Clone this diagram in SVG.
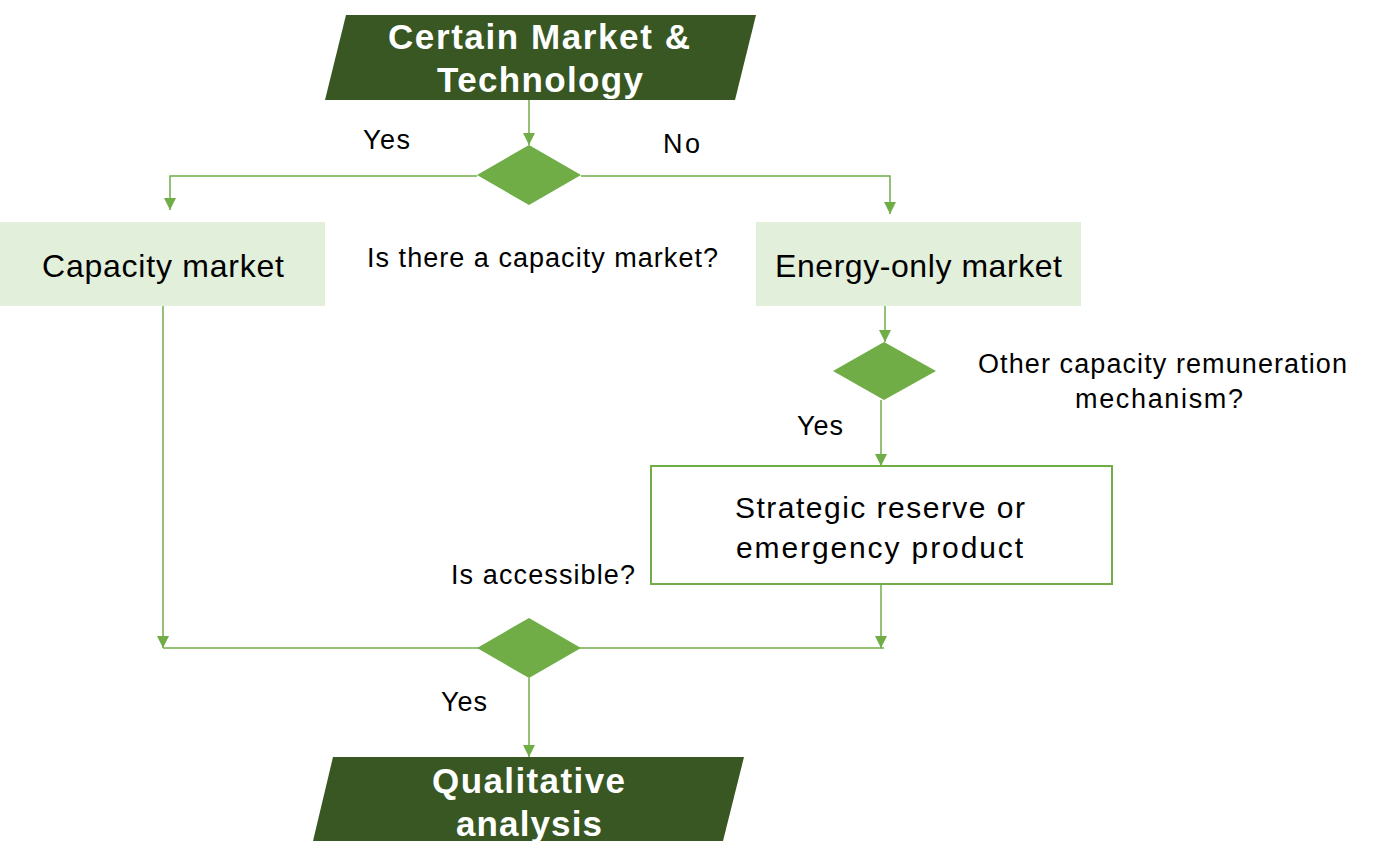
<svg xmlns="http://www.w3.org/2000/svg" width="1380" height="868" viewBox="0 0 1380 868">
<style>
text{font-family:"Liberation Sans",Arial,sans-serif;fill:#000}
.title{font-weight:bold;font-size:35px;fill:#fff}
.box{font-size:32px}
.lbl{font-size:27px}
.con{stroke:#70AD47;stroke-width:1.5;fill:none}
.dark{fill:#385723}
.light{fill:#E2EFDA}
.dia{fill:#70AD47}
</style>
<defs>
<marker id="arr" markerUnits="userSpaceOnUse" markerWidth="12" markerHeight="12" refX="12" refY="6" orient="auto">
<path d="M0,0 L12,6 L0,12 Z" fill="#70AD47"/>
</marker>
</defs>
<rect width="1380" height="868" fill="#fff"/>
<g id="connectors">
<line class="con" x1="529" y1="100" x2="529" y2="145" marker-end="url(#arr)"/>
<polyline class="con" points="477,176 170,176 170,210" marker-end="url(#arr)"/>
<polyline class="con" points="581,176 890,176 890,214" marker-end="url(#arr)"/>
<line class="con" x1="163" y1="306" x2="163" y2="648" marker-end="url(#arr)"/>
<line class="con" x1="163" y1="648" x2="884" y2="648"/>
<line class="con" x1="885" y1="306" x2="885" y2="342" marker-end="url(#arr)"/>
<line class="con" x1="881" y1="400" x2="881" y2="466" marker-end="url(#arr)"/>
<line class="con" x1="881" y1="584" x2="881" y2="648" marker-end="url(#arr)"/>
<line class="con" x1="529" y1="678" x2="529" y2="757" marker-end="url(#arr)"/>
</g>
<g id="start">
<polygon class="dark" points="346,15 756,15 735,100 325,100"/>
<text class="title" x="388" y="49" textLength="302" lengthAdjust="spacing">Certain Market &amp;</text>
<text class="title" x="437" y="92" textLength="206" lengthAdjust="spacing">Technology</text>
</g>
<g id="decision1">
<polygon class="dia" points="529,145 581,175 529,205 477,175"/>
<text class="lbl" x="367" y="267" textLength="351" lengthAdjust="spacing">Is there a capacity market?</text>
</g>
<g id="label-yes1"><text class="lbl" x="363" y="149" textLength="47" lengthAdjust="spacing">Yes</text></g>
<g id="label-no1"><text class="lbl" x="663" y="153" textLength="37" lengthAdjust="spacing">No</text></g>
<g id="capacity-market">
<rect class="light" x="0" y="222" width="325" height="84"/>
<text class="box" x="42" y="277" textLength="242" lengthAdjust="spacing">Capacity market</text>
</g>
<g id="energy-only-market">
<rect class="light" x="756" y="222" width="325" height="84"/>
<text class="box" x="775" y="277" textLength="287" lengthAdjust="spacing">Energy-only market</text>
</g>
<g id="decision2">
<polygon class="dia" points="884,342 936,371 884,400 833,371"/>
<text class="lbl" x="978" y="373" textLength="369" lengthAdjust="spacing">Other capacity remuneration</text>
<text class="lbl" x="1075" y="408" textLength="168" lengthAdjust="spacing">mechanism?</text>
</g>
<g id="label-yes2"><text class="lbl" x="797" y="435" textLength="46" lengthAdjust="spacing">Yes</text></g>
<g id="strategic-reserve">
<rect x="651" y="466" width="461" height="118" fill="#fff" stroke="#70AD47" stroke-width="2"/>
<text class="box" style="font-size:30px" x="735" y="518" textLength="290" lengthAdjust="spacing">Strategic reserve or</text>
<text class="box" style="font-size:30px" x="736" y="558" textLength="287" lengthAdjust="spacing">emergency product</text>
</g>
<g id="decision3">
<polygon class="dia" points="529,618 581,648 529,678 477,648"/>
<text class="lbl" x="451" y="584" textLength="184" lengthAdjust="spacing">Is accessible?</text>
</g>
<g id="label-yes3"><text class="lbl" x="441" y="711" textLength="46" lengthAdjust="spacing">Yes</text></g>
<g id="end">
<polygon class="dark" points="333,757 744,757 723,841 313,841"/>
<text class="title" x="432" y="793" textLength="193" lengthAdjust="spacing">Qualitative</text>
<text class="title" x="456" y="836" textLength="146" lengthAdjust="spacing">analysis</text>
</g>
</svg>
